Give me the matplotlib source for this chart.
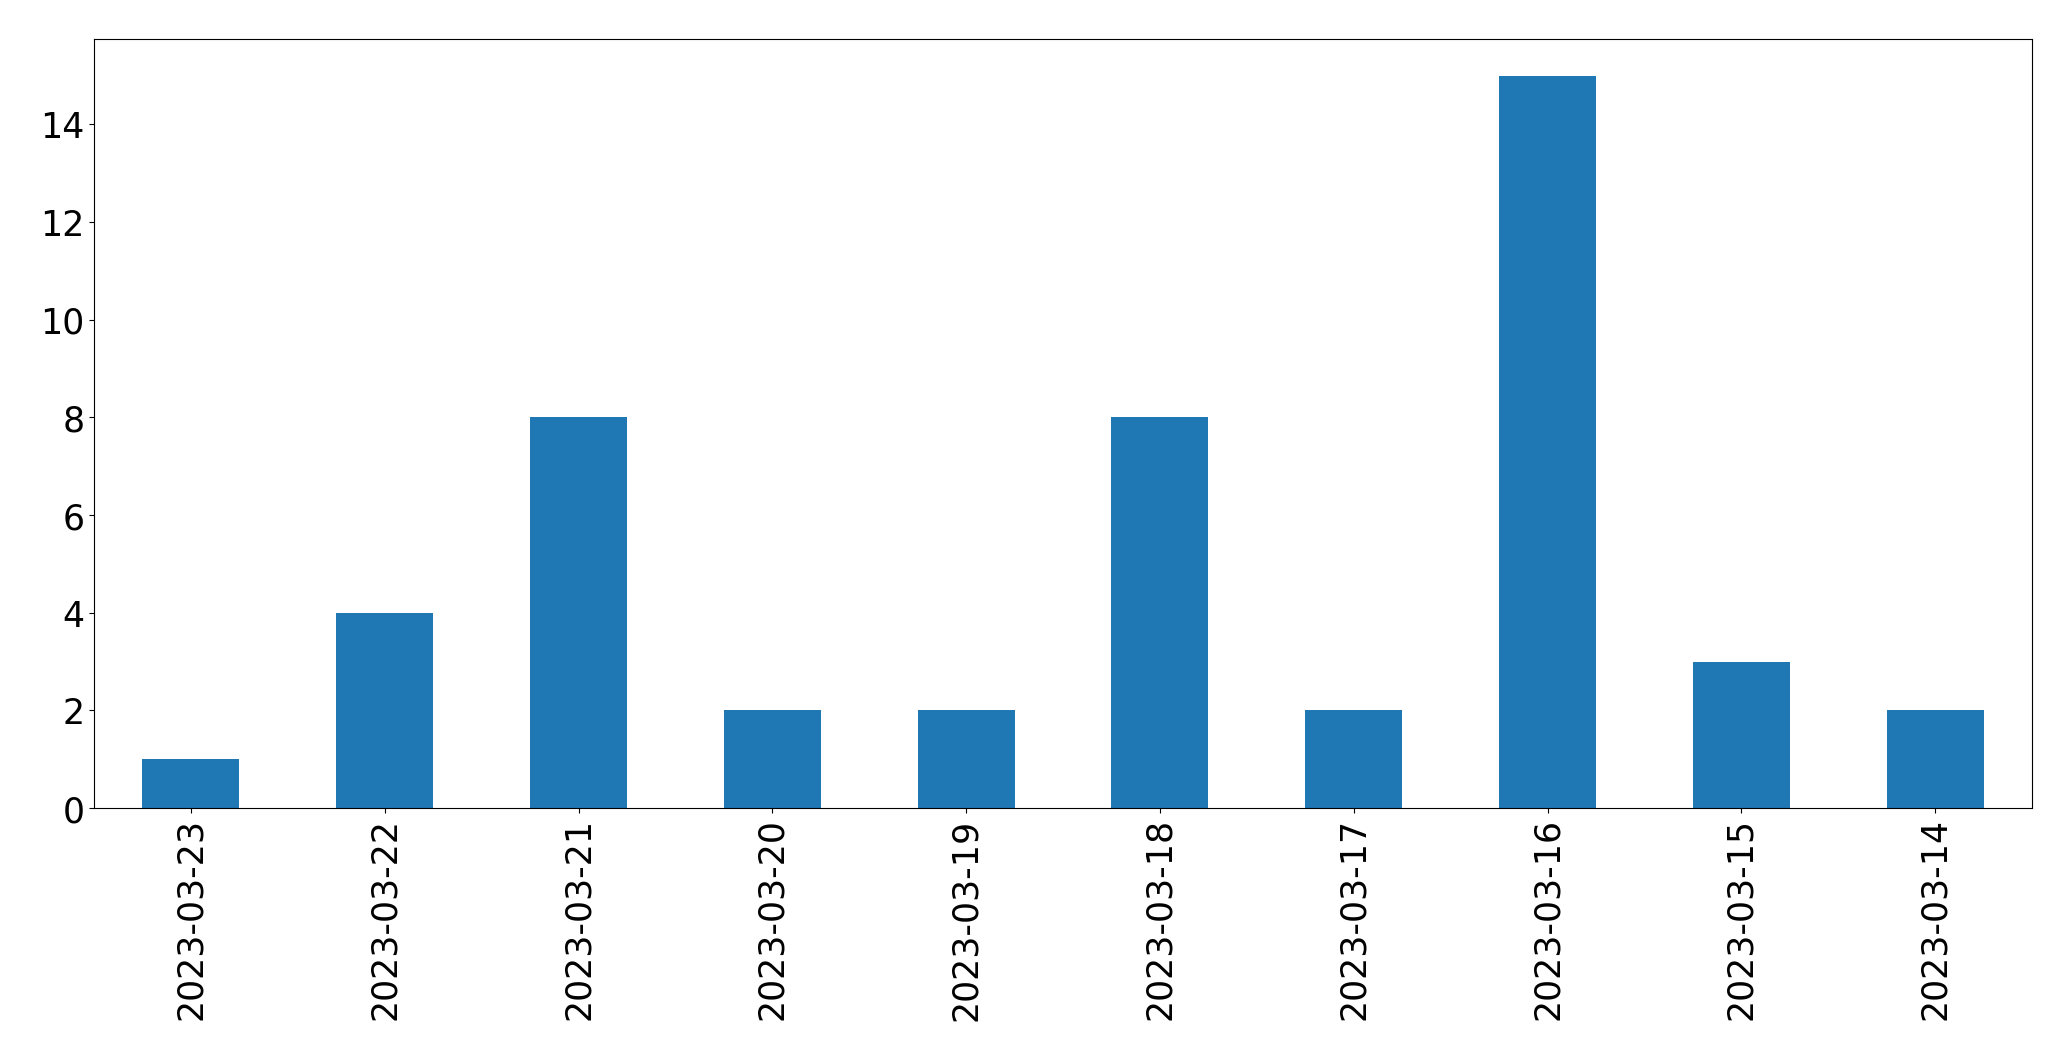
import matplotlib
matplotlib.use("Agg")
import matplotlib.pyplot as plt
import pandas as pd

dates = ['2023-03-23', '2023-03-22', '2023-03-21', '2023-03-20', '2023-03-19',
         '2023-03-18', '2023-03-17', '2023-03-16', '2023-03-15', '2023-03-14']
counts = [1, 4, 8, 2, 2, 8, 2, 15, 3, 2]

series = pd.Series(counts, index=dates)

fig, ax = plt.subplots(figsize=(20.71, 10.605), dpi=100)
series.plot(kind='bar', ax=ax, color='#1f77b4', fontsize=25)
fig.subplots_adjust(left=0.0454, right=0.9812, top=0.9628, bottom=0.2375)
plt.savefig('out.png', dpi=100)
